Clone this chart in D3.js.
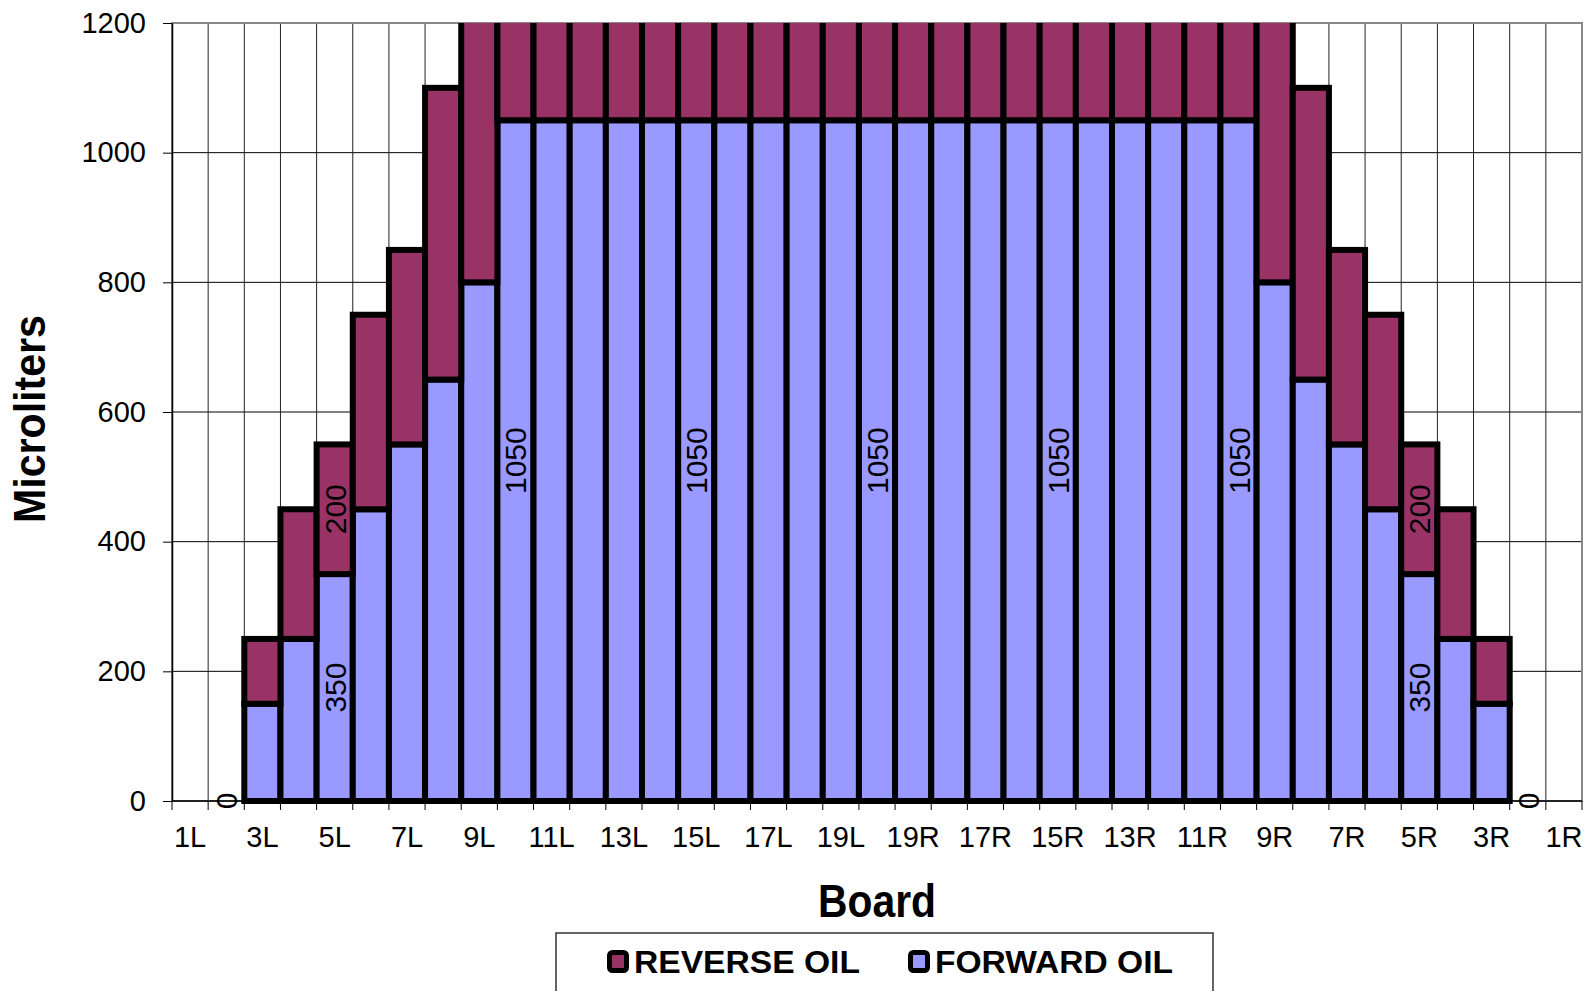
<!DOCTYPE html>
<html>
<head>
<meta charset="utf-8">
<script src="https://cdn.jsdelivr.net/npm/d3@7"></script>
<style>
  body { margin: 0; background: #fff; }
  svg { display: block; font-family: "Liberation Sans", Arial, sans-serif; }
</style>
</head>
<body>
<svg id="chart" width="1587" height="991"></svg>
<script>
// boards across the lane, left to right
const boards = ["1L","2L","3L","4L","5L","6L","7L","8L","9L","10L","11L","12L","13L","14L","15L","16L","17L","18L","19L",
  "20",
  "19R","18R","17R","16R","15R","14R","13R","12R","11R","10R","9R","8R","7R","6R","5R","4R","3R","2R","1R"];

// microliters per board (null = nothing plotted)
const forwardOil = [null,0,150,250,350,450,550,650,800,1050,1050,1050,1050,1050,1050,1050,1050,1050,1050,
  1050,
  1050,1050,1050,1050,1050,1050,1050,1050,1050,1050,800,650,550,450,350,250,150,0,null];
const reverseOil = [null,0,100,200,200,300,300,450,500,350,350,350,350,350,350,350,350,350,350,
  350,
  350,350,350,350,350,350,350,350,350,350,500,450,300,300,200,200,100,0,null];

// boards that carry a value label
const forwardLabelled = ["2L","5L","10L","15L","20","15R","10R","5R","2R"];
const reverseLabelled = ["5L","5R"];

const yTicks = [0, 200, 400, 600, 800, 1000, 1200];

const colors = { forward: "#9999ff", reverse: "#993366" };

const svg = d3.select("#chart");
const plotLeft = 172, plotRight = 1582, plotTop = 23, plotBottom = 801;

const x = d3.scaleBand().domain(boards).range([plotLeft, plotRight]).paddingInner(0).paddingOuter(0);
const y = d3.scaleLinear().domain([0, 1200]).range([plotBottom, plotTop]);

const rows = boards.map((b, i) => ({ board: b, forward: forwardOil[i], reverse: reverseOil[i] }));
const stacked = d3.stack().keys(["forward", "reverse"]).value((d, k) => d[k] || 0)(rows);

// gridlines
svg.append("g")
  .selectAll("line")
  .data(yTicks.slice(1, -1))
  .join("line")
  .attr("x1", plotLeft).attr("x2", plotRight)
  .attr("y1", d => y(d)).attr("y2", d => y(d))
  .attr("stroke", "#000").attr("stroke-width", 1);

svg.append("g")
  .selectAll("line")
  .data(boards.slice(1))
  .join("line")
  .attr("x1", d => x(d)).attr("x2", d => x(d))
  .attr("y1", plotTop).attr("y2", plotBottom)
  .attr("stroke", "#222").attr("stroke-width", 1);

// plot border
svg.append("rect")
  .attr("x", plotLeft).attr("y", plotTop)
  .attr("width", plotRight - plotLeft).attr("height", plotBottom - plotTop)
  .attr("fill", "none").attr("stroke", "#888").attr("stroke-width", 2);

// axes
const yAxis = svg.append("g")
  .attr("transform", `translate(${plotLeft},0)`)
  .call(d3.axisLeft(y).tickValues(yTicks).tickFormat(d3.format("d"))
    .tickSize(9).tickPadding(17).tickSizeOuter(0));
yAxis.attr("font-family", null);
yAxis.select(".domain").attr("stroke", "#000").attr("stroke-width", 1.5);
yAxis.selectAll("text").attr("font-size", 29).attr("fill", "#000");

const xAxis = svg.append("g")
  .attr("transform", `translate(0,${plotBottom})`)
  .call(d3.axisBottom(x).tickSize(0).tickPadding(0).tickFormat((d, i) => i % 2 === 0 ? d : ""));
xAxis.attr("font-family", null);
xAxis.select(".domain").remove();
xAxis.selectAll(".tick line").remove();
xAxis.selectAll("text")
  .attr("font-size", 29).attr("fill", "#000")
  .attr("dy", 0).attr("y", 46);

svg.append("line")
  .attr("x1", plotLeft).attr("x2", plotRight).attr("y1", plotBottom).attr("y2", plotBottom)
  .attr("stroke", "#000").attr("stroke-width", 1.5);

// x tick marks sit on the board boundaries
svg.append("g")
  .selectAll("line")
  .data(boards.concat(["end"]))
  .join("line")
  .attr("x1", (d, i) => plotLeft + i * x.bandwidth())
  .attr("x2", (d, i) => plotLeft + i * x.bandwidth())
  .attr("y1", plotBottom).attr("y2", plotBottom + 9)
  .attr("stroke", "#000").attr("stroke-width", 1);

// bars, clipped to the plot area
svg.append("clipPath").attr("id", "plot-clip")
  .append("rect")
  .attr("x", plotLeft - 5).attr("y", plotTop)
  .attr("width", plotRight - plotLeft + 10).attr("height", plotBottom - plotTop + 6);

const bars = svg.append("g").attr("clip-path", "url(#plot-clip)");
bars.selectAll("g")
  .data(stacked)
  .join("g")
  .attr("fill", d => colors[d.key])
  .selectAll("rect")
  .data(d => d.filter(s => s[1] - s[0] > 0))
  .join("rect")
  .attr("x", d => x(d.data.board))
  .attr("width", x.bandwidth())
  .attr("y", d => y(d[1]))
  .attr("height", d => y(d[0]) - y(d[1]))
  .attr("stroke", "#000")
  .attr("stroke-width", 6)
  .attr("stroke-linejoin", "miter");

// data labels, rotated
function addLabels(key, list) {
  const series = stacked.find(s => s.key === key);
  svg.append("g")
    .selectAll("text")
    .data(series.filter(s => list.includes(s.data.board)))
    .join("text")
    .attr("transform", d => {
      const cx = x(d.data.board) + x.bandwidth() / 2 + 11;
      const cy = (y(d[0]) + y(d[1])) / 2;
      return `translate(${cx},${cy}) rotate(-90)`;
    })
    .attr("text-anchor", "middle")
    .attr("font-size", 30)
    .attr("fill", "#000")
    .text(d => d.data[key]);
}
addLabels("forward", forwardLabelled);
addLabels("reverse", reverseLabelled);

// axis titles
svg.append("text")
  .attr("x", 877).attr("y", 917)
  .attr("text-anchor", "middle")
  .attr("font-size", 46).attr("font-weight", "bold")
  .attr("textLength", 118).attr("lengthAdjust", "spacingAndGlyphs")
  .text("Board");

svg.append("text")
  .attr("transform", "translate(45,419) rotate(-90)")
  .attr("text-anchor", "middle")
  .attr("font-size", 44).attr("font-weight", "bold")
  .attr("textLength", 208).attr("lengthAdjust", "spacingAndGlyphs")
  .text("Microliters");

// legend
const legend = svg.append("g");
legend.append("rect")
  .attr("x", 556).attr("y", 933)
  .attr("width", 657).attr("height", 80)
  .attr("fill", "#fff").attr("stroke", "#333").attr("stroke-width", 1.5);

const legendItems = [
  { key: "reverse", name: "REVERSE OIL", x: 607, len: 226 },
  { key: "forward", name: "FORWARD OIL", x: 908, len: 238 }
];
const li = legend.selectAll("g.item")
  .data(legendItems)
  .join("g")
  .attr("class", "item")
  .attr("transform", d => `translate(${d.x},0)`);
li.append("rect")
  .attr("x", 2.5).attr("y", 952.5)
  .attr("width", 17).attr("height", 18)
  .attr("rx", 3)
  .attr("fill", d => colors[d.key])
  .attr("stroke", "#000").attr("stroke-width", 5);
li.append("text")
  .attr("x", 27).attr("y", 973)
  .attr("font-size", 31).attr("font-weight", "bold")
  .attr("textLength", d => d.len).attr("lengthAdjust", "spacingAndGlyphs")
  .text(d => d.name);
</script>
</body>
</html>
